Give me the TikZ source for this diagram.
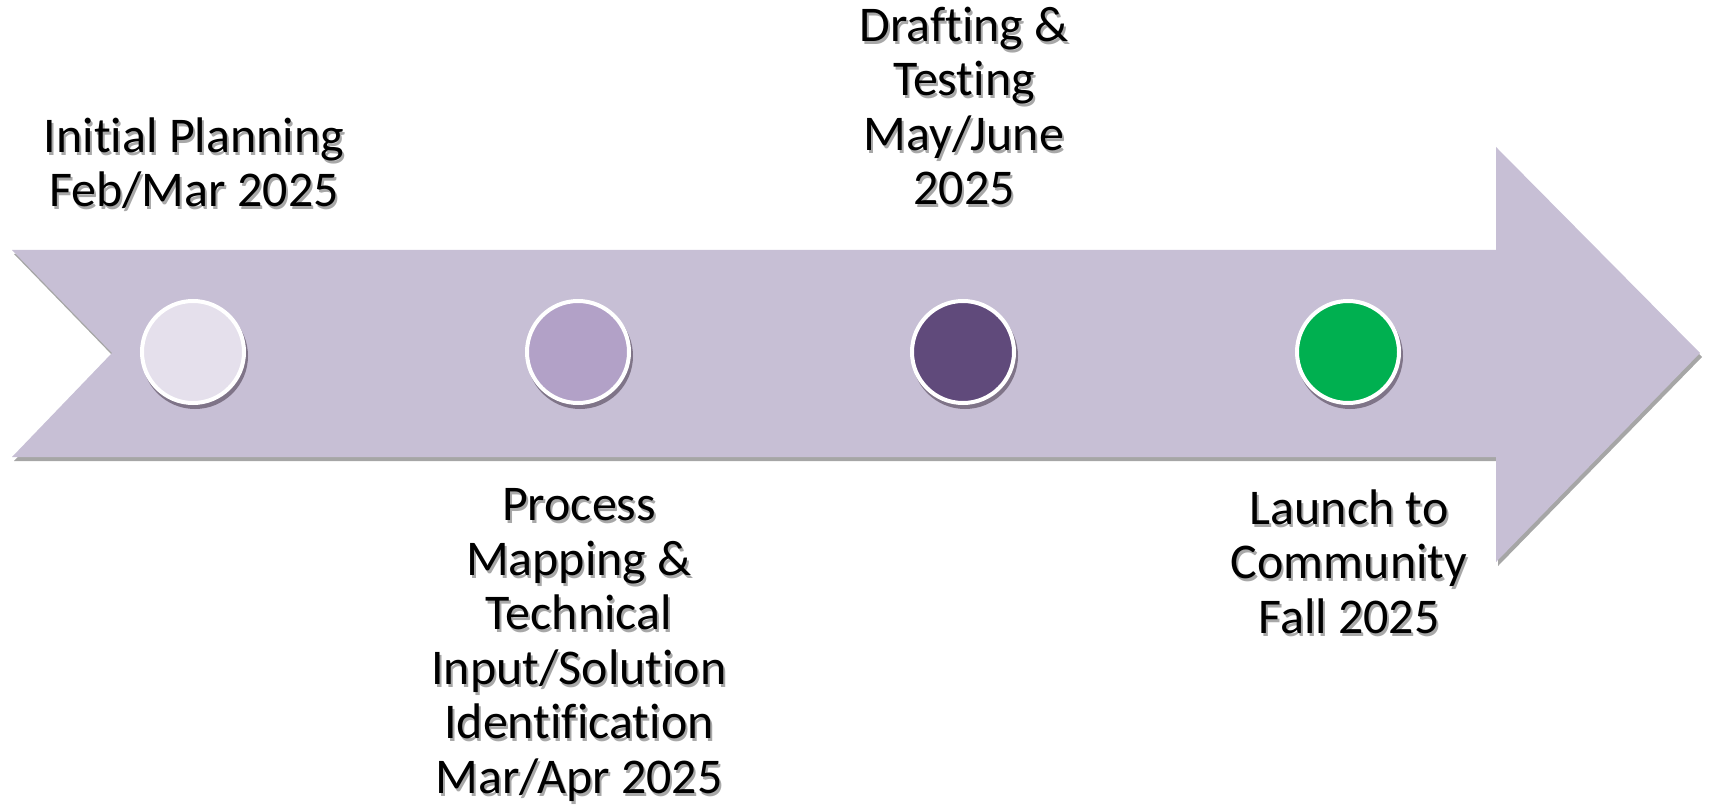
\documentclass[tikz,border=0pt]{standalone}
\usepackage{fontspec}
\setmainfont{Carlito}[Ligatures=NoCommon]
\definecolor{arrowfill}{HTML}{C7BFD5}
\definecolor{arrowshadow}{HTML}{A6A6A6}
\definecolor{dotA}{HTML}{E5E0EC}
\definecolor{dotB}{HTML}{B2A1C7}
\definecolor{dotC}{HTML}{604A7B}
\definecolor{dotD}{HTML}{00B050}
\definecolor{dotshadow}{HTML}{7F7488}
\definecolor{txtshadow}{HTML}{A8A8A8}
\begin{document}
\begin{tikzpicture}[x=1pt,y=-1pt,
  dot/.style={circle,draw=white,line width=4pt,minimum size=102pt,inner sep=0pt},
  dotshade/.style={circle,fill=dotshadow,minimum size=106pt,inner sep=0pt},
  lbl/.style={align=center,font=\fontsize{50}{54.5}\selectfont,inner sep=0pt,anchor=base},
  lblshade/.style={lbl,text=txtshadow}]
\useasboundingbox (0,0) rectangle (1710,810);
% arrow shadow
\fill[arrowshadow] (14,254) -- (1498,254) -- (1498,151) -- (1702,357) -- (1498,566) -- (1498,461) -- (14,461) -- (114,357) -- cycle;
% arrow
\fill[arrowfill] (12,250) -- (1496,250) -- (1496,147) -- (1700,353) -- (1496,562) -- (1496,457) -- (12,457) -- (112,353) -- cycle;
% dots
\foreach \x/\c/\n in {193/dotA/d1,578/dotB/d2,963/dotC/d3,1348/dotD/d4}{
  \node[dotshade] at (\x+2,352+4) {};
  \node[dot,fill=\c] (\n) at (\x,352) {};
}
% labels (shadow copies)
\node[lblshade] at (196,210) {Initial Planning\\Feb/Mar 2025};
\node[lblshade] at (966,208) {Drafting \&\\Testing\\May/June\\2025};
\node[lblshade] at (581,796) {Process\\Mapping \&\\Technical\\Input/Solution\\Identification\\Mar/Apr 2025};
\node[lblshade] at (1351,636) {Launch to\\Community\\Fall 2025};
% labels
\node[lbl] (t1) at (194,207) {Initial Planning\\Feb/Mar 2025};
\node[lbl] (t3) at (964,205) {Drafting \&\\Testing\\May/June\\2025};
\node[lbl] (t2) at (579,793) {Process\\Mapping \&\\Technical\\Input/Solution\\Identification\\Mar/Apr 2025};
\node[lbl] (t4) at (1349,633) {Launch to\\Community\\Fall 2025};
\end{tikzpicture}
\end{document}
